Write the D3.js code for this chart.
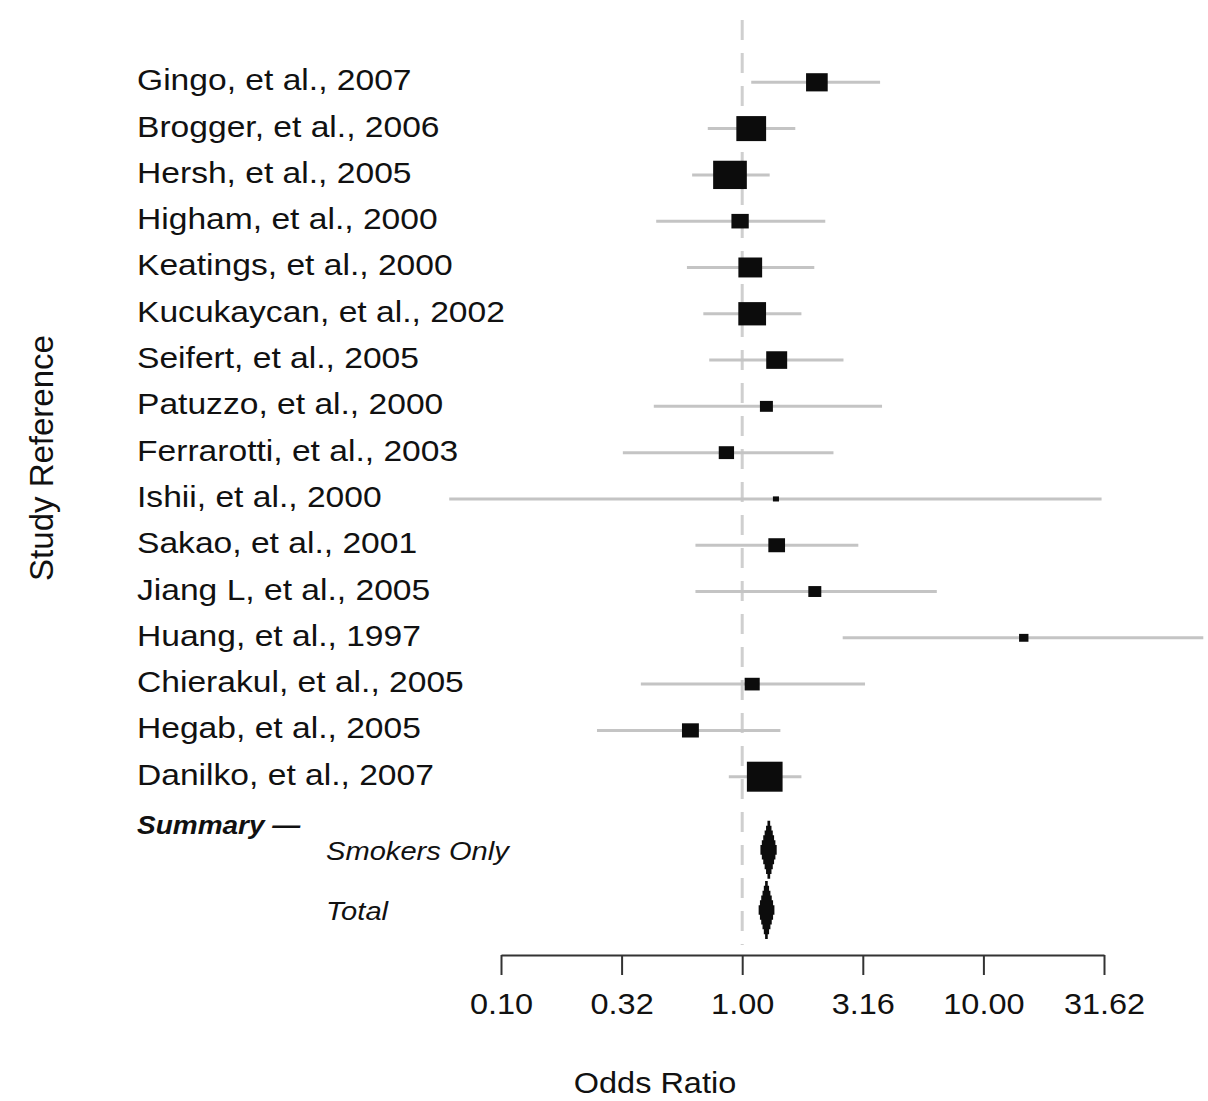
<!DOCTYPE html>
<html>
<head>
<meta charset="utf-8">
<script src="https://cdn.jsdelivr.net/npm/d3@7"></script>
<style>
  body { margin: 0; background: #fff; }
  text { font-family: "Liberation Sans", Arial, Helvetica, sans-serif; fill: #111; }
</style>
</head>
<body>
<svg id="chart" width="1208" height="1101"></svg>
<script>
// study rows, top to bottom
const studies = [
  "Gingo, et al., 2007", "Brogger, et al., 2006", "Hersh, et al., 2005",
  "Higham, et al., 2000", "Keatings, et al., 2000", "Kucukaycan, et al., 2002",
  "Seifert, et al., 2005", "Patuzzo, et al., 2000", "Ferrarotti, et al., 2003",
  "Ishii, et al., 2000", "Sakao, et al., 2001", "Jiang L, et al., 2005",
  "Huang, et al., 1997", "Chierakul, et al., 2005", "Hegab, et al., 2005",
  "Danilko, et al., 2007"
];
const oddsRatio = [2.04, 1.09, 0.89, 0.98, 1.08, 1.10, 1.39, 1.26, 0.86, 1.38, 1.39, 2.00, 14.7, 1.10, 0.61, 1.24];
const ciLower   = [1.09, 0.72, 0.62, 0.44, 0.59, 0.69, 0.73, 0.43, 0.32, 0.061, 0.64, 0.64, 2.61, 0.38, 0.25, 0.88];
const ciUpper   = [3.73, 1.66, 1.30, 2.21, 1.99, 1.76, 2.63, 3.80, 2.39, 30.9, 3.03, 6.41, 81.6, 3.23, 1.44, 1.76];
const weights   = [6.4, 12.1, 15.5, 4.1, 7.7, 10.5, 6.0, 2.3, 3.2, 0.5, 3.8, 2.3, 1.2, 3.1, 3.9, 17.4];

// pooled estimates
const summaryLabels = ["Smokers Only", "Total"];
const summaryOR     = [1.29, 1.26];
const summaryLower  = [1.19, 1.17];
const summaryUpper  = [1.39, 1.36];

const tickValues = [0.1, 0.316228, 1, 3.16228, 10, 31.6228];

const svg = d3.select("#chart");
const stretch = 1.12;   // the original is a bit wider than tall

const x = d3.scaleLog().domain([0.1, 31.6228]).range([501, 1104]);
const y = d3.scaleLinear().domain([0, 15]).range([82.3, 776.7]);
const summaryRow = [16.58, 17.88];
const boxW = d3.scaleSqrt().domain([0, d3.max(weights)]).range([0, 35.7]);

// reference line at OR = 1
svg.append("line")
  .attr("x1", x(1)).attr("x2", x(1))
  .attr("y1", 20).attr("y2", 945)
  .attr("stroke", "#cfcfcf")
  .attr("stroke-width", 3)
  .attr("stroke-dasharray", "20,13");

const rows = studies.map((s, i) => ({
  name: s, or: oddsRatio[i], lo: ciLower[i], hi: ciUpper[i], w: weights[i], i: i
}));

// study labels
svg.append("g").selectAll("text")
  .data(rows)
  .join("text")
  .attr("transform", d => `translate(137,${y(d.i) + 8}) scale(${stretch},1)`)
  .attr("font-size", 30)
  .text(d => d.name);

// confidence intervals
svg.append("g").selectAll("line")
  .data(rows)
  .join("line")
  .attr("x1", d => x(d.lo))
  .attr("x2", d => x(d.hi))
  .attr("y1", d => y(d.i))
  .attr("y2", d => y(d.i))
  .attr("stroke", "#c4c4c4")
  .attr("stroke-width", 3);

// weighted boxes
svg.append("g").selectAll("rect")
  .data(rows)
  .join("rect")
  .attr("x", d => x(d.or) - boxW(d.w) / 2)
  .attr("y", d => y(d.i) - boxW(d.w) * 0.42)
  .attr("width", d => boxW(d.w))
  .attr("height", d => boxW(d.w) * 0.84)
  .attr("fill", "#0c0c0c");

// summary block
svg.append("text")
  .attr("transform", `translate(137,834) scale(${stretch},1)`)
  .attr("font-size", 25)
  .attr("font-weight", "bold")
  .attr("font-style", "italic")
  .text("Summary \u2014");

const sums = summaryLabels.map((s, i) => ({
  name: s, or: summaryOR[i], lo: summaryLower[i], hi: summaryUpper[i], r: summaryRow[i]
}));

svg.append("g").selectAll("text")
  .data(sums)
  .join("text")
  .attr("transform", d => `translate(326,${y(d.r) + 10}) scale(${stretch},1)`)
  .attr("font-size", 26)
  .attr("font-style", "italic")
  .text(d => d.name);

// stepped diamonds, like the original raster
const diamond = d => {
  const cy = y(d.r), cx = x(d.or), hh = 29, steps = 6;
  const dr = x(d.hi) - cx, dl = cx - x(d.lo);
  const n = 2 * steps, bh = 2 * hh / n;
  const f = j => 1 - (Math.abs(j + 0.5 - steps) - 0.5) / steps;
  const rightSide = [], leftSide = [];
  for (let j = 0; j < n; j++) {
    const y0 = cy - hh + j * bh, y1 = y0 + bh;
    rightSide.push([cx + dr * f(j), y0], [cx + dr * f(j), y1]);
    leftSide.push([cx - dl * f(j), y0], [cx - dl * f(j), y1]);
  }
  return d3.line()(rightSide.concat(leftSide.reverse())) + "Z";
};

svg.append("g").selectAll("path")
  .data(sums)
  .join("path")
  .attr("d", diamond)
  .attr("fill", "#0c0c0c");

// x axis
const axis = svg.append("g")
  .attr("transform", "translate(0,955)")
  .call(d3.axisBottom(x)
    .tickValues(tickValues)
    .tickFormat(d3.format(".2f"))
    .tickSize(20)
    .tickSizeOuter(0));
axis.select(".domain").attr("stroke", "#333").attr("stroke-width", 2);
axis.selectAll(".tick line").attr("stroke", "#333").attr("stroke-width", 2);
axis.selectAll(".tick text")
  .attr("font-size", 29)
  .attr("font-family", "Liberation Sans, Arial, sans-serif")
  .attr("fill", "#111")
  .attr("y", 38)
  .attr("x", 0)
  .attr("transform", `scale(${stretch},1)`);

svg.append("text")
  .attr("transform", `translate(655,1093) scale(${stretch},1)`)
  .attr("text-anchor", "middle")
  .attr("font-size", 29)
  .text("Odds Ratio");

svg.append("text")
  .attr("transform", "translate(53,458) rotate(-90)")
  .attr("text-anchor", "middle")
  .attr("font-size", 33)
  .text("Study Reference");
</script>
</body>
</html>
